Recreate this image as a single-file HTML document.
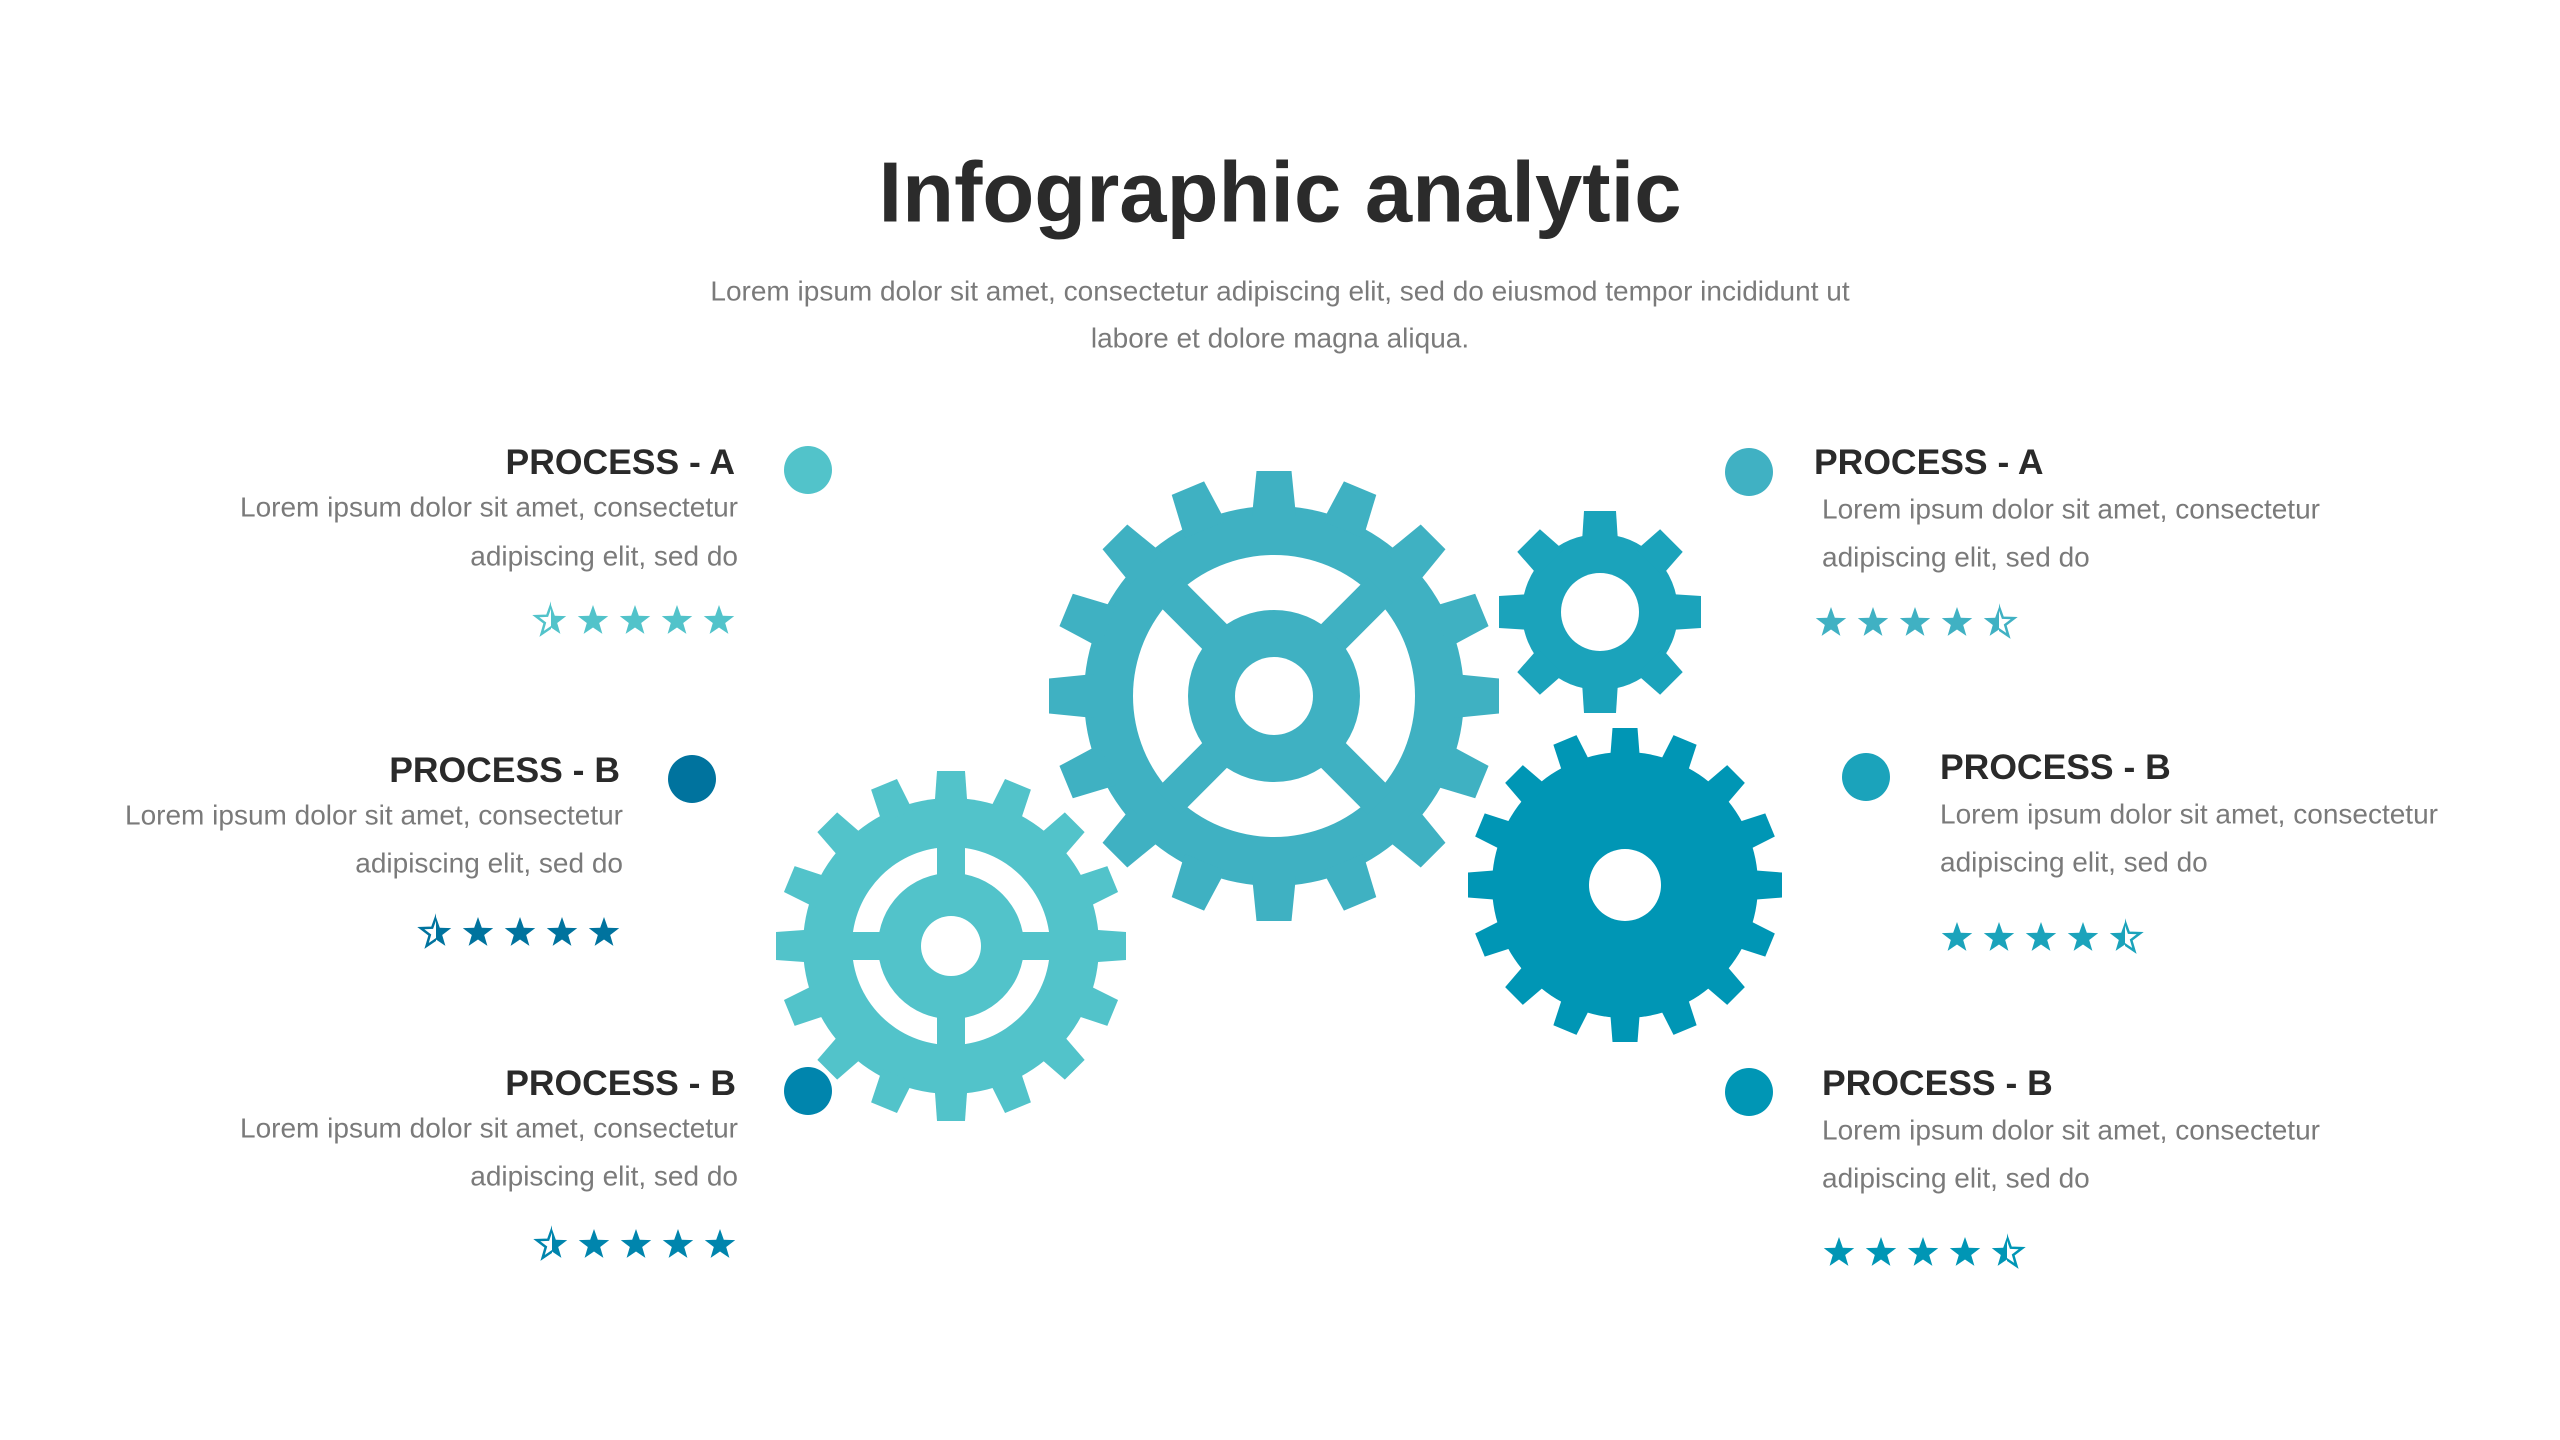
<!DOCTYPE html>
<html><head><meta charset="utf-8"><style>
html,body{margin:0;padding:0;background:#fff;}
svg{display:block;}
text{font-family:"Liberation Sans",sans-serif;}
.h{font-weight:700;font-size:35.5px;fill:#2a2a2a;}
.b{font-size:28px;fill:#7a7a7a;}
</style></head><body>
<svg width="2560" height="1440" viewBox="0 0 2560 1440" xmlns="http://www.w3.org/2000/svg">
<defs>
<polygon id="tb" points="-22,-180 22,-180 17.5,-225 -17.5,-225"/>
<polygon id="tl" points="-16.5,-140 16.5,-140 14,-175 -14,-175"/>
<polygon id="ts" points="-18,-70 18,-70 16,-101 -16,-101"/>
<polygon id="td" points="-15,-125 15,-125 12.5,-157 -12.5,-157"/>
<path id="st" d="M0,-16 L3.8,-5.3 L15.2,-4.9 L6.2,2 L9.4,12.9 L0,6.5 L-9.4,12.9 L-6.2,2 L-15.2,-4.9 L-3.8,-5.3Z"/>
<clipPath id="cr"><rect x="0" y="-20" width="20" height="40"/></clipPath>
<clipPath id="cl"><rect x="-20" y="-20" width="20" height="40"/></clipPath>
</defs>

<g transform="translate(1274,696)" fill="#3fb1c2">
<circle r="190"/>
<use href="#tb" transform="rotate(0)"/><use href="#tb" transform="rotate(22.5)"/><use href="#tb" transform="rotate(45)"/><use href="#tb" transform="rotate(67.5)"/>
<use href="#tb" transform="rotate(90)"/><use href="#tb" transform="rotate(112.5)"/><use href="#tb" transform="rotate(135)"/><use href="#tb" transform="rotate(157.5)"/>
<use href="#tb" transform="rotate(180)"/><use href="#tb" transform="rotate(202.5)"/><use href="#tb" transform="rotate(225)"/><use href="#tb" transform="rotate(247.5)"/>
<use href="#tb" transform="rotate(270)"/><use href="#tb" transform="rotate(292.5)"/><use href="#tb" transform="rotate(315)"/><use href="#tb" transform="rotate(337.5)"/>
<circle r="141" fill="#fff"/>
<rect x="-17.5" y="-150" width="35" height="300" transform="rotate(45)"/>
<rect x="-17.5" y="-150" width="35" height="300" transform="rotate(-45)"/>
<circle r="86"/>
<circle r="39" fill="#fff"/>
</g>

<g transform="translate(951,946)" fill="#52c3ca">
<circle r="148"/>
<use href="#tl" transform="rotate(0)"/><use href="#tl" transform="rotate(22.5)"/><use href="#tl" transform="rotate(45)"/><use href="#tl" transform="rotate(67.5)"/>
<use href="#tl" transform="rotate(90)"/><use href="#tl" transform="rotate(112.5)"/><use href="#tl" transform="rotate(135)"/><use href="#tl" transform="rotate(157.5)"/>
<use href="#tl" transform="rotate(180)"/><use href="#tl" transform="rotate(202.5)"/><use href="#tl" transform="rotate(225)"/><use href="#tl" transform="rotate(247.5)"/>
<use href="#tl" transform="rotate(270)"/><use href="#tl" transform="rotate(292.5)"/><use href="#tl" transform="rotate(315)"/><use href="#tl" transform="rotate(337.5)"/>
<circle r="99" fill="#fff"/>
<rect x="-14" y="-105" width="28" height="210"/>
<rect x="-105" y="-14" width="210" height="28"/>
<circle r="73"/>
<circle r="30" fill="#fff"/>
</g>

<g transform="translate(1600,612)" fill="#1ba3bb">
<circle r="78"/>
<use href="#ts" transform="rotate(0)"/><use href="#ts" transform="rotate(45)"/><use href="#ts" transform="rotate(90)"/><use href="#ts" transform="rotate(135)"/>
<use href="#ts" transform="rotate(180)"/><use href="#ts" transform="rotate(225)"/><use href="#ts" transform="rotate(270)"/><use href="#ts" transform="rotate(315)"/>
<circle r="39" fill="#fff"/>
</g>

<g transform="translate(1625,885)" fill="#0096b5">
<circle r="133"/>
<use href="#td" transform="rotate(0)"/><use href="#td" transform="rotate(22.5)"/><use href="#td" transform="rotate(45)"/><use href="#td" transform="rotate(67.5)"/>
<use href="#td" transform="rotate(90)"/><use href="#td" transform="rotate(112.5)"/><use href="#td" transform="rotate(135)"/><use href="#td" transform="rotate(157.5)"/>
<use href="#td" transform="rotate(180)"/><use href="#td" transform="rotate(202.5)"/><use href="#td" transform="rotate(225)"/><use href="#td" transform="rotate(247.5)"/>
<use href="#td" transform="rotate(270)"/><use href="#td" transform="rotate(292.5)"/><use href="#td" transform="rotate(315)"/><use href="#td" transform="rotate(337.5)"/>
<circle r="36" fill="#fff"/>
</g>

<text x="1280" y="193" text-anchor="middle" dominant-baseline="central" style="font-size:85px;font-weight:700;fill:#2b2b2b">Infographic analytic</text>
<text x="1280" y="291" text-anchor="middle" dominant-baseline="central" style="font-size:28px;fill:#7a7a7a">Lorem ipsum dolor sit amet, consectetur adipiscing elit, sed do eiusmod tempor incididunt ut</text>
<text x="1280" y="338" text-anchor="middle" dominant-baseline="central" style="font-size:28px;fill:#7a7a7a">labore et dolore magna aliqua.</text>

<circle cx="808" cy="470" r="24" fill="#52c3ca"/>
<circle cx="692" cy="779" r="24" fill="#00739e"/>
<circle cx="808" cy="1091" r="24" fill="#0085ad"/>
<circle cx="1749" cy="472" r="24" fill="#40b1c3"/>
<circle cx="1866" cy="777" r="24" fill="#1ba3bb"/>
<circle cx="1749" cy="1092" r="24" fill="#0096b5"/>

<text class="h" x="735" y="462" text-anchor="end" dominant-baseline="central">PROCESS - A</text>
<text class="b" x="738" y="507" text-anchor="end" dominant-baseline="central">Lorem ipsum dolor sit amet, consectetur</text>
<text class="b" x="738" y="556" text-anchor="end" dominant-baseline="central">adipiscing elit, sed do</text>
<g fill="#52c3ca">
<g transform="translate(551,621)"><use href="#st" fill="none" stroke="#52c3ca" stroke-width="2.5" clip-path="url(#cl)"/><use href="#st" clip-path="url(#cr)"/></g>
<use href="#st" x="593" y="621"/><use href="#st" x="635" y="621"/><use href="#st" x="677" y="621"/><use href="#st" x="719" y="621"/>
</g>

<text class="h" x="620" y="770" text-anchor="end" dominant-baseline="central">PROCESS - B</text>
<text class="b" x="623" y="815" text-anchor="end" dominant-baseline="central">Lorem ipsum dolor sit amet, consectetur</text>
<text class="b" x="623" y="863" text-anchor="end" dominant-baseline="central">adipiscing elit, sed do</text>
<g fill="#00739e">
<g transform="translate(436,933)"><use href="#st" fill="none" stroke="#00739e" stroke-width="2.5" clip-path="url(#cl)"/><use href="#st" clip-path="url(#cr)"/></g>
<use href="#st" x="478" y="933"/><use href="#st" x="520" y="933"/><use href="#st" x="562" y="933"/><use href="#st" x="604" y="933"/>
</g>

<text class="h" x="736" y="1083" text-anchor="end" dominant-baseline="central">PROCESS - B</text>
<text class="b" x="738" y="1128" text-anchor="end" dominant-baseline="central">Lorem ipsum dolor sit amet, consectetur</text>
<text class="b" x="738" y="1176" text-anchor="end" dominant-baseline="central">adipiscing elit, sed do</text>
<g fill="#0085ad">
<g transform="translate(552,1245)"><use href="#st" fill="none" stroke="#0085ad" stroke-width="2.5" clip-path="url(#cl)"/><use href="#st" clip-path="url(#cr)"/></g>
<use href="#st" x="594" y="1245"/><use href="#st" x="636" y="1245"/><use href="#st" x="678" y="1245"/><use href="#st" x="720" y="1245"/>
</g>

<text class="h" x="1814" y="462" dominant-baseline="central">PROCESS - A</text>
<text class="b" x="1822" y="509" dominant-baseline="central">Lorem ipsum dolor sit amet, consectetur</text>
<text class="b" x="1822" y="557" dominant-baseline="central">adipiscing elit, sed do</text>
<g fill="#40b1c3">
<use href="#st" x="1831" y="623"/><use href="#st" x="1873" y="623"/><use href="#st" x="1915" y="623"/><use href="#st" x="1957" y="623"/>
<g transform="translate(1999,623)"><use href="#st" fill="none" stroke="#40b1c3" stroke-width="2.5" clip-path="url(#cr)"/><use href="#st" clip-path="url(#cl)"/></g>
</g>

<text class="h" x="1940" y="767" dominant-baseline="central">PROCESS - B</text>
<text class="b" x="1940" y="814" dominant-baseline="central">Lorem ipsum dolor sit amet, consectetur</text>
<text class="b" x="1940" y="862" dominant-baseline="central">adipiscing elit, sed do</text>
<g fill="#1ba3bb">
<use href="#st" x="1957" y="938"/><use href="#st" x="1999" y="938"/><use href="#st" x="2041" y="938"/><use href="#st" x="2083" y="938"/>
<g transform="translate(2125,938)"><use href="#st" fill="none" stroke="#1ba3bb" stroke-width="2.5" clip-path="url(#cr)"/><use href="#st" clip-path="url(#cl)"/></g>
</g>

<text class="h" x="1822" y="1083" dominant-baseline="central">PROCESS - B</text>
<text class="b" x="1822" y="1130" dominant-baseline="central">Lorem ipsum dolor sit amet, consectetur</text>
<text class="b" x="1822" y="1178" dominant-baseline="central">adipiscing elit, sed do</text>
<g fill="#0096b5">
<use href="#st" x="1839" y="1253"/><use href="#st" x="1881" y="1253"/><use href="#st" x="1923" y="1253"/><use href="#st" x="1965" y="1253"/>
<g transform="translate(2007,1253)"><use href="#st" fill="none" stroke="#0096b5" stroke-width="2.5" clip-path="url(#cr)"/><use href="#st" clip-path="url(#cl)"/></g>
</g>
</svg>
</body></html>
